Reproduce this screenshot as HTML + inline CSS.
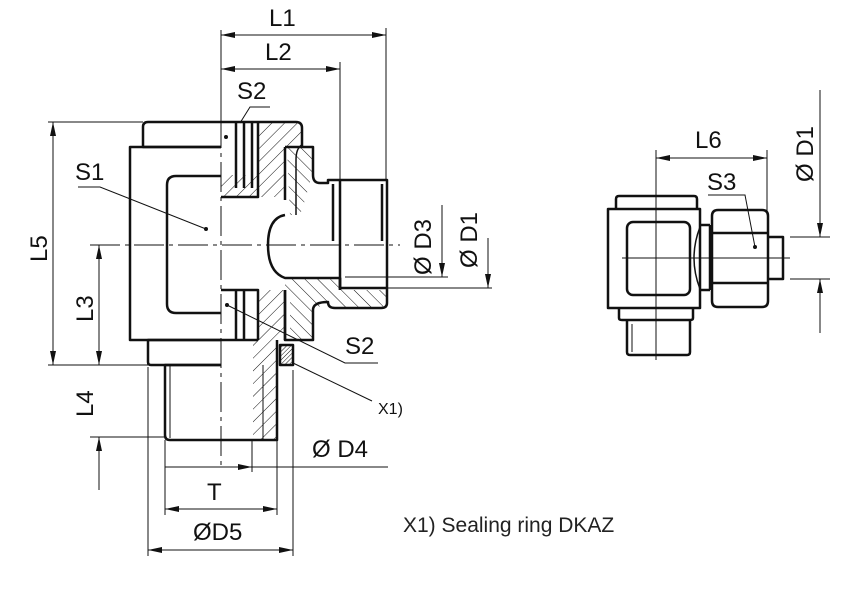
<!DOCTYPE html>
<html><head><meta charset="utf-8"><style>
html,body{margin:0;padding:0;background:#fff}
svg{display:block}
text{font-family:"Liberation Sans",Arial,sans-serif;fill:#111}
</style></head><body>
<svg width="865" height="589" viewBox="0 0 865 589" xmlns="http://www.w3.org/2000/svg">
<defs>
<pattern id="h" width="9" height="9" patternUnits="userSpaceOnUse" patternTransform="rotate(45)">
<line x1="0" y1="0" x2="0" y2="9" stroke="#111" stroke-width="1"/></pattern>
<pattern id="h2" width="9" height="9" patternUnits="userSpaceOnUse" patternTransform="rotate(-45)">
<line x1="0" y1="0" x2="0" y2="9" stroke="#111" stroke-width="1"/></pattern>
<pattern id="h3" width="3" height="3" patternUnits="userSpaceOnUse" patternTransform="rotate(45)">
<line x1="0" y1="0" x2="0" y2="3" stroke="#111" stroke-width="1"/></pattern>
<marker id="a" viewBox="0 0 14 6" refX="14" refY="3" markerWidth="14" markerHeight="6" orient="auto" markerUnits="userSpaceOnUse">
<path d="M0,0 L14,3 L0,6 z" fill="#111"/></marker>
<marker id="b" viewBox="0 0 14 6" refX="0" refY="3" markerWidth="14" markerHeight="6" orient="auto" markerUnits="userSpaceOnUse">
<path d="M14,0 L0,3 L14,6 z" fill="#111"/></marker>
</defs>

<g fill="none" stroke="#111" stroke-width="1">
<line x1="221" y1="30" x2="221" y2="470" stroke-dasharray="30,5,4,5"/>
<line x1="90" y1="245" x2="400" y2="245" stroke-dasharray="30,5,4,5"/>
<line x1="221" y1="30" x2="221" y2="120"/>
<line x1="386" y1="28" x2="386" y2="180"/>
<line x1="340" y1="62" x2="340" y2="245"/>
<line x1="221" y1="35" x2="386" y2="35" marker-start="url(#b)" marker-end="url(#a)"/>
<line x1="221" y1="69" x2="340" y2="69" marker-start="url(#b)" marker-end="url(#a)"/>
<line x1="48" y1="122" x2="143" y2="122"/>
<line x1="48" y1="365" x2="165" y2="365"/>
<line x1="90" y1="437" x2="165" y2="437"/>
<line x1="53" y1="122" x2="53" y2="365" marker-start="url(#b)" marker-end="url(#a)"/>
<line x1="99" y1="245" x2="99" y2="365" marker-start="url(#b)" marker-end="url(#a)"/>
<line x1="99" y1="490" x2="99" y2="437" marker-end="url(#a)"/>
<line x1="165" y1="440" x2="165" y2="515"/>
<line x1="277" y1="440" x2="277" y2="515"/>
<line x1="148" y1="367" x2="148" y2="556"/>
<line x1="293" y1="370" x2="293" y2="556"/>
<line x1="252" y1="440" x2="252" y2="472"/>
<line x1="165" y1="467" x2="388" y2="467"/>
<line x1="230" y1="467" x2="252" y2="467" marker-end="url(#a)"/>
<line x1="165" y1="509" x2="277" y2="509" marker-start="url(#b)" marker-end="url(#a)"/>
<line x1="148" y1="550" x2="293" y2="550" marker-start="url(#b)" marker-end="url(#a)"/>
<line x1="345" y1="277" x2="448" y2="277"/>
<line x1="380" y1="288" x2="492" y2="288"/>
<line x1="442" y1="205" x2="442" y2="277" marker-end="url(#a)"/>
<line x1="488" y1="238" x2="488" y2="288" marker-end="url(#a)"/>
<polyline points="270,107 250,107 240,123"/>
<polyline points="78,187 100,187 206,229"/>
<polyline points="378,363 345,363 227,305"/>
<polyline points="372,401 293,363"/>
</g>
<circle cx="206" cy="229" r="2" fill="#111"/>
<circle cx="227" cy="305" r="2" fill="#111"/>
<circle cx="226" cy="137" r="2" fill="#111"/>

<g stroke="none">
<polygon points="258,122 296,122 302,128 302,147 285,147 285,197 221,197 221,175 258,175" fill="url(#h)"/>
<polygon points="285,278 340,278 345,290 387,290 387,303 381,308 335,308 328,302 313,310 313,340 290,340 290,300 285,292" fill="url(#h2)"/>
<polygon points="258,290 285,290 285,340 277,340 277,440 253,440 253,340 258,340" fill="url(#h)"/>
<polygon points="287,148 312,148 312,175 305,200 300,215 290,215" fill="url(#h2)"/>
<rect x="280" y="345" width="13" height="20" fill="url(#h3)"/>
</g>

<g fill="none" stroke="#111" stroke-width="2.5" stroke-linejoin="round">
<path d="M221,122 H296 Q302,122 302,128 V147 M221,147 H143 V127 Q143,122 148,122 H221"/>
<path d="M221,147 H130 V340 H221"/>
<path d="M221,176 H176 Q167,176 167,185 V304 Q167,313 176,313 H221"/>
<path d="M221,340 H148 V362 Q148,365 151,365 H221"/>
<path d="M221,365 H165 V435 Q165,440 170,440 H277 V340"/>
<path d="M221,197 H258 V122 M236,122 V188 M244,122 V188 M252,122 V188"/>
<path d="M221,290 H258 V340 M236,290 V340 M244,290 V340 M221,340 H258"/>
<path d="M285,147 H313 V175 Q313,183 320,183 H328 V180 H387 V303 Q387,308 381,308 H335 Q328,308 328,302 Q313,302 313,310 V340 H285 V290"/>
<path d="M285,147 V200 M285,290 V340"/>
<path d="M285,215 Q268,218 268,245 Q268,272 285,278 H340 V290"/>
<path d="M340,278 V288 H387"/>
<path d="M340,180 V290"/>
<path d="M333,184 V241 M382,184 V241"/>
<path d="M302,145 Q296,148 296,160 V215" stroke-width="1.5"/>
<rect x="280" y="345" width="13" height="20"/>
<path d="M170,366 V438" stroke-width="1"/>
<path d="M263,365 V440" stroke-width="1"/>
</g>

<g fill="none" stroke="#111" stroke-width="1">
<line x1="656" y1="150" x2="656" y2="360"/>
<line x1="622" y1="258" x2="790" y2="258"/>
<line x1="767" y1="150" x2="767" y2="215"/>
<line x1="656" y1="158" x2="767" y2="158" marker-start="url(#b)" marker-end="url(#a)"/>
<line x1="790" y1="237" x2="830" y2="237"/>
<line x1="790" y1="279" x2="830" y2="279"/>
<line x1="820" y1="90" x2="820" y2="237" marker-end="url(#a)"/>
<line x1="820" y1="333" x2="820" y2="279" marker-end="url(#a)"/>
<polyline points="708,195 745,195 755,247"/>
</g>
<circle cx="755" cy="247" r="2" fill="#111"/>
<g fill="none" stroke="#111" stroke-width="2.5" stroke-linejoin="round">
<path d="M616,209 V199 Q616,196 619,196 H694 Q697,196 697,199 V209"/>
<rect x="608" y="209" width="92" height="99"/>
<rect x="627" y="222" width="63" height="73" rx="6"/>
<path d="M619,308 V318 Q619,320 622,320 H690 Q693,320 693,318 V308"/>
<path d="M627,320 V352 Q627,355 630,355 H687 Q690,355 690,352 V320"/>
<path d="M700,225 H710 M700,290 H710 M710,225 V290"/>
<path d="M700,227 Q688,258 700,289" stroke-width="1.5"/>
<path d="M712,216 Q712,210 718,210 H762 Q768,210 768,216 V301 Q768,307 762,307 H718 Q712,307 712,301 Z"/>
<path d="M712,233 H768 M712,283 H768"/>
<path d="M768,237 H783 V279 H768"/>
</g>
<path d="M632,324 V352" stroke="#111" stroke-width="1"/>

<g font-size="24">
<text x="269" y="26">L1</text>
<text x="265" y="60">L2</text>
<text x="237" y="99">S2</text>
<text x="75" y="180">S1</text>
<text x="345" y="354">S2</text>
<text x="207" y="500">T</text>
<text x="193" y="540">ØD5</text>
<text x="312" y="457">Ø D4</text>
<text x="695" y="148">L6</text>
<text x="707" y="190">S3</text>
<text transform="translate(47,262) rotate(-90)">L5</text>
<text transform="translate(93,322) rotate(-90)">L3</text>
<text transform="translate(93,417) rotate(-90)">L4</text>
<text transform="translate(431,275) rotate(-90)">Ø D3</text>
<text transform="translate(477,268) rotate(-90)">Ø D1</text>
<text transform="translate(813,182) rotate(-90)">Ø D1</text>
</g>
<text x="378" y="414" font-size="16">X1)</text>
<text x="403" y="532" font-size="21" style="fill:#222">X1) Sealing ring DKAZ</text>
</svg>
</body></html>
